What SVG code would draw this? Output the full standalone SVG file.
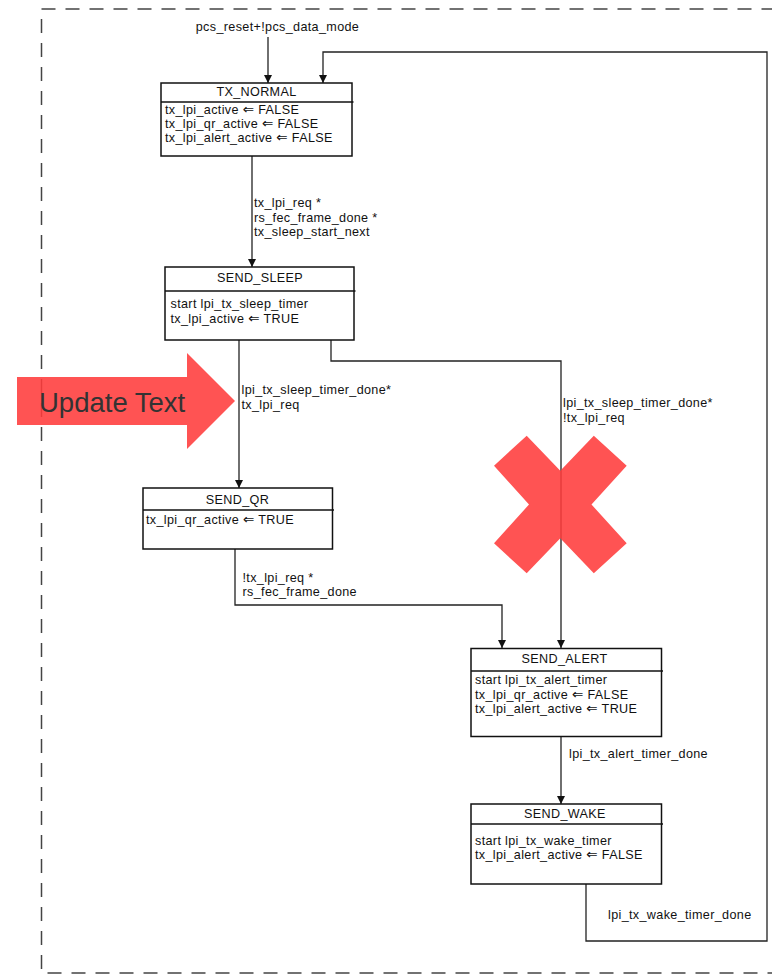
<svg xmlns="http://www.w3.org/2000/svg" width="772" height="974" viewBox="0 0 772 974">
<defs>
<style>
.t{font-family:"Liberation Sans",Arial,"DejaVu Sans",sans-serif;font-size:12.6px;letter-spacing:0.35px;fill:#111}
.c{text-anchor:middle}
.a{font-family:"DejaVu Sans",sans-serif;font-size:13.5px}
.box{fill:#fff;stroke:#111;stroke-width:1.5}
.sep{stroke:#111;stroke-width:1.3}
.con{fill:none;stroke:#222;stroke-width:1.3}
.border{fill:none;stroke:#444;stroke-width:1.5;stroke-dasharray:14 10}
.red{fill:#FF3B3B;fill-opacity:0.88}
</style>
<marker id="ah" viewBox="0 0 10 10" refX="10" refY="5" markerWidth="9" markerHeight="8" markerUnits="userSpaceOnUse" orient="auto">
<path d="M0,0 L10,5 L0,10 z" fill="#111"/>
</marker>
</defs>
<rect width="772" height="974" fill="#fff"/>
<rect class="border" x="41.5" y="9" width="800" height="964"/>

<g id="connectors">
<path class="con" d="M268,37 V83" marker-end="url(#ah)"/>
<path class="con" d="M586,884 V941 H767 V52 H323 V83" marker-end="url(#ah)"/>
<path class="con" d="M252,156 V267" marker-end="url(#ah)"/>
<path class="con" d="M239,340 V488" marker-end="url(#ah)"/>
<path class="con" d="M331,340 V361 H561 V648" marker-end="url(#ah)"/>
<path class="con" d="M235,549 V605 H502 V648" marker-end="url(#ah)"/>
<path class="con" d="M561,737 V804" marker-end="url(#ah)"/>
<text class="t c" x="277.5" y="30.5">pcs_reset+!pcs_data_mode</text>
<text class="t" x="254" y="207">tx_lpi_req *</text>
<text class="t" x="254" y="221.5">rs_fec_frame_done *</text>
<text class="t" x="254" y="236">tx_sleep_start_next</text>
<text class="t" x="241.5" y="394.3">lpi_tx_sleep_timer_done*</text>
<text class="t" x="241.5" y="408.6">tx_lpi_req</text>
<text class="t" x="563" y="407">lpi_tx_sleep_timer_done*</text>
<text class="t" x="563" y="421.5">!tx_lpi_req</text>
<text class="t" x="242.5" y="581.8">!tx_lpi_req *</text>
<text class="t" x="242.5" y="596.1">rs_fec_frame_done</text>
<text class="t" x="569" y="757.5">lpi_tx_alert_timer_done</text>
<text class="t" x="608" y="918.5">lpi_tx_wake_timer_done</text>
</g>

<g id="TX_NORMAL">
<rect class="box" x="161" y="83" width="191" height="73"/>
<line class="sep" x1="161" y1="102" x2="353.5" y2="102"/>
<text class="t c" x="256.5" y="96">TX_NORMAL</text>
<text class="t" x="165" y="113.5">tx_lpi_active <tspan class="a">⇐</tspan> FALSE</text>
<text class="t" x="165" y="127.8">tx_lpi_qr_active <tspan class="a">⇐</tspan> FALSE</text>
<text class="t" x="165" y="142.1">tx_lpi_alert_active <tspan class="a">⇐</tspan> FALSE</text>
</g>

<g id="SEND_SLEEP">
<rect class="box" x="165" y="267" width="189" height="73"/>
<line class="sep" x1="165" y1="291" x2="355.5" y2="291"/>
<text class="t c" x="260" y="282">SEND_SLEEP</text>
<text class="t" x="170.5" y="308.2">start lpi_tx_sleep_timer</text>
<text class="t" x="170.5" y="322.5">tx_lpi_active <tspan class="a">⇐</tspan> TRUE</text>
</g>

<g id="SEND_QR">
<rect class="box" x="143" y="488" width="189.5" height="61"/>
<line class="sep" x1="143" y1="510" x2="334" y2="510"/>
<text class="t c" x="237.5" y="503.5">SEND_QR</text>
<text class="t" x="146" y="524">tx_lpi_qr_active <tspan class="a">⇐</tspan> TRUE</text>
</g>

<g id="SEND_ALERT">
<rect class="box" x="471" y="648.5" width="190.5" height="88"/>
<line class="sep" x1="471" y1="671" x2="663" y2="671"/>
<text class="t c" x="564.5" y="662.5">SEND_ALERT</text>
<text class="t" x="475" y="684.2">start lpi_tx_alert_timer</text>
<text class="t" x="475" y="698.5">tx_lpi_qr_active <tspan class="a">⇐</tspan> FALSE</text>
<text class="t" x="475" y="712.8">tx_lpi_alert_active <tspan class="a">⇐</tspan> TRUE</text>
</g>

<g id="SEND_WAKE">
<rect class="box" x="471" y="804" width="190.5" height="80"/>
<line class="sep" x1="471" y1="824" x2="663" y2="824"/>
<text class="t c" x="565" y="817.5">SEND_WAKE</text>
<text class="t" x="475" y="844.8">start lpi_tx_wake_timer</text>
<text class="t" x="475" y="859.1">tx_lpi_alert_active <tspan class="a">⇐</tspan> FALSE</text>
</g>

<g id="annotation_arrow">
<polygon class="red" points="17,377 187,377 187,353 235,401 187,449 187,425 17,425"/>
<text x="39" y="411.5" style="font-family:'Liberation Sans',Arial,sans-serif;font-size:27.5px;fill:#333">Update Text</text>
</g>

<g id="annotation_cross">
<polygon class="red" points="526.7,435.7 560.3,470.7 593.8,435.7 626.7,465.7 591.5,504.5 626.7,543.3 593.8,573.3 560.3,538.3 526.7,573.3 494,543.3 529,504.5 494,465.7"/>
</g>
</svg>
